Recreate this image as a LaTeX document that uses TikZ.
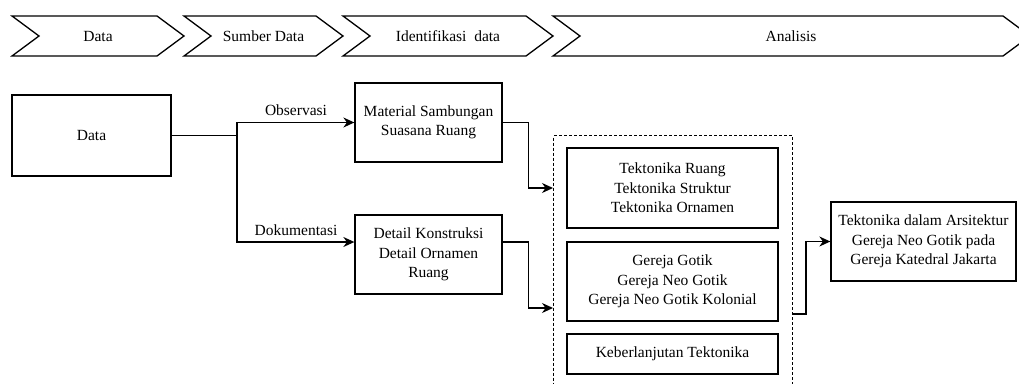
\documentclass[tikz,border=0pt]{standalone}
\usepackage{fontspec}
\setmainfont{Liberation Serif}
\usetikzlibrary{arrows.meta}
\begin{document}
\begin{tikzpicture}[x=1pt,y=-1pt,
  txt/.style={font=\fontsize{15.5}{19.5}\selectfont, text=black},
  box/.style={txt, draw, line width=1.3pt, align=center, inner sep=0pt},
  lbl/.style={txt, inner sep=1pt},
  conn/.style={line width=1.3pt},
  arr/.style={conn, -{Stealth[length=11pt,width=10pt]}},
  chev/.style={draw, line width=1.3pt, line join=miter}]
\useasboundingbox (0,0) rectangle (1019,383);
\clip (0,0) rectangle (1019,383);

% process chevrons along the top
\draw[chev] (12,16) -- (157,16) -- (184,36) -- (157,56) -- (12,56) -- (39,36) -- cycle;
\draw[chev] (184,16) -- (316,16) -- (343,36) -- (316,56) -- (184,56) -- (211,36) -- cycle;
\draw[chev] (343,16) -- (526,16) -- (553,36) -- (526,56) -- (343,56) -- (370,36) -- cycle;
\draw[chev] (553,16) -- (1003,16) -- (1030,36) -- (1003,56) -- (553,56) -- (580,36) -- cycle;
\node[lbl] (c1) at (98,36) {Data};
\node[lbl] (c2) at (263.5,36) {Sumber Data};
\node[lbl] (c3) at (448,36) {Identifikasi~~data};
\node[lbl] (c4) at (791,36) {Analisis};

% source and data boxes
\node[box, minimum width=159pt, minimum height=81pt] (data) at (91.5,135.5) {Data};
\node[box, minimum width=147pt, minimum height=79pt] (mat) at (428.5,122.5) {Material Sambungan\\Suasana Ruang};
\node[box, minimum width=147pt, minimum height=79pt] (det) at (428.5,254.5) {Detail Konstruksi\\Detail Ornamen\\Ruang};

% analysis group
\node[draw, dash pattern=on 3pt off 2pt, line width=1.1pt, minimum width=239pt,
      minimum height=270pt, anchor=north west, inner sep=0pt] (grp) at (553,135) {};
\node[box, minimum width=211pt, minimum height=80pt] (tek) at (672.5,188) {Tektonika Ruang\\Tektonika Struktur\\Tektonika Ornamen};
\node[box, minimum width=211pt, minimum height=79pt] (ger) at (672.5,281.5) {Gereja Gotik\\Gereja Neo Gotik\\Gereja Neo Gotik Kolonial};
\node[box, minimum width=211pt, minimum height=40pt] (keb) at (672.5,354) {Keberlanjutan Tektonika};

% result
\node[box, minimum width=185pt, minimum height=79pt] (fin) at (923.5,241.5) {Tektonika dalam Arsitektur\\Gereja Neo Gotik pada\\Gereja Katedral Jakarta};

% connectors
\coordinate (j) at (237,135.5);
\draw[conn] (data.east) -- (j);
\draw[arr] (j) |- (mat.west);
\draw[arr] (j) |- ([yshift=12.5pt]det.west);
\node[lbl] (obs) at (296,110) {Observasi};
\node[lbl] (dok) at (296,230) {Dokumentasi};

\draw[arr] (mat.east) -- ++(26,0) |- ([yshift=-53pt]grp.north west);
\draw[arr] ([yshift=12.5pt]det.east) -- ++(26,0) |- ([yshift=-173pt]grp.north west);
\draw[arr] ([yshift=-179pt]grp.north east) -- ++(13,0) |- (fin.west);
\end{tikzpicture}
\end{document}
